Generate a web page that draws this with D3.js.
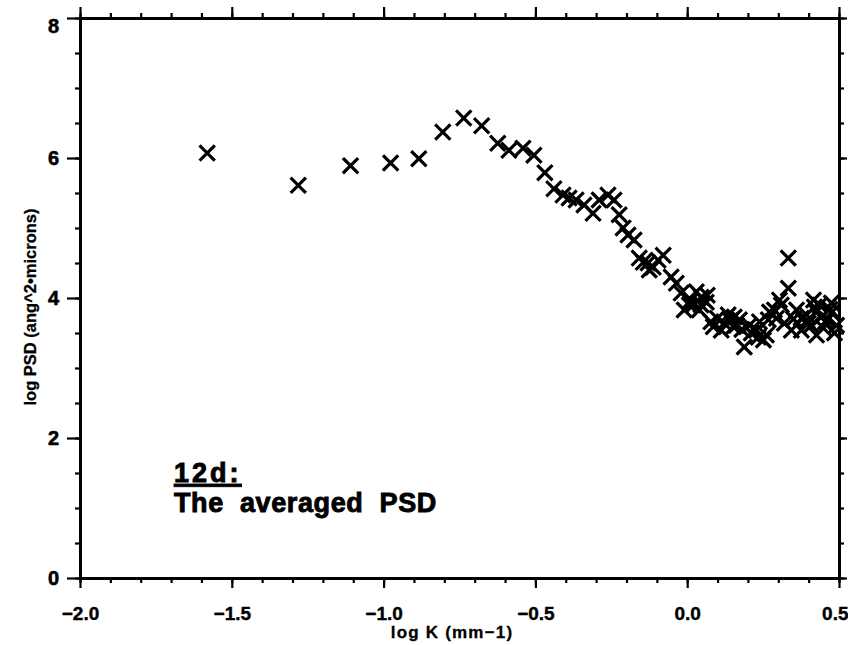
<!DOCTYPE html>
<html><head><meta charset="utf-8">
<script src="https://cdn.jsdelivr.net/npm/d3@7"></script>
<style>
body{margin:0;background:#fff}
svg text{font-family:"Liberation Sans",Arial,Helvetica,sans-serif;font-weight:bold;fill:#000}
</style>
</head><body>
<svg id="chart" width="848" height="645"></svg>
<script>
// ---- data ----
const logK = [
 -1.581,-1.281,-1.109,-0.977,-0.884,-0.805,-0.736,-0.677,-0.624,-0.587,
 -0.541,-0.505,-0.469,-0.439,-0.409,-0.389,-0.366,-0.340,-0.310,-0.290,
 -0.261,-0.241,-0.224,-0.211,-0.195,-0.175,-0.145,-0.129,-0.112,-0.079,
 -0.053,-0.036,-0.020,-0.010,0.013,0.046,0.063,0.086,0.122,0.155,
 0.152,0.188,0.211,0.234,0.267,0.287,0.310,0.333,0.333,0.320,
 0.343,0.399,0.419,0.442,0.475,0.485,
 -0.158,-0.125,-0.096,0.020,0.030,0.046,0.066,0.040,0.007,
 0.099,0.112,0.135,0.162,0.172,0.205,0.228,0.251,0.238,0.261,
 0.271,0.294,0.304,0.360,0.376,0.393,0.409,0.426,0.436,0.449,
 0.462,0.475,0.492,0.416,0.376,
 0.425,0.455,0.395,0.470,0.078,0.142,0.180,0.350
];
const logPSD = [
 6.07,5.61,5.89,5.93,5.99,6.37,6.57,6.46,6.21,6.11,
 6.14,6.04,5.79,5.56,5.47,5.43,5.40,5.33,5.21,5.40,
 5.47,5.40,5.19,5.00,4.90,4.83,4.51,4.50,4.44,4.61,
 4.30,4.21,4.07,3.83,3.97,4.01,3.94,3.59,3.64,3.73,
 3.59,3.30,3.50,3.44,3.69,3.83,3.90,4.57,4.14,3.64,
 3.54,3.64,3.87,3.73,3.79,3.50,
 4.57,4.40,4.54,3.90,4.09,3.90,4.04,3.83,3.90,
 3.71,3.54,3.76,3.61,3.69,3.61,3.54,3.40,3.66,3.47,
 3.80,3.71,3.97,3.83,3.54,3.76,3.61,3.47,3.90,3.57,
 3.69,3.93,3.61,3.97,3.71,
 3.80,3.66,3.68,3.84,3.66,3.68,3.55,3.70
];
const xTicks = [-2.0,-1.5,-1.0,-0.5,0.0,0.5];
const xTickLabels = ["\u22122.0","\u22121.5","\u22121.0","\u22120.5","0.0","0.5"];
const yTicks = [0,2,4,6,8];
const yTickLabels = ["0","2","4","6","8"];
const xTitle = "log K (mm\u22121)";
const yTitle = "log PSD (ang^2\u2022microns)";
const noteLine1 = "12d:";
const noteLine2 = "The  averaged  PSD";

// ---- layout ----
const L = 80, R = 839, T = 18, B = 578;
const svg = d3.select("#chart");
const x = d3.scaleLinear().domain([-2, 0.5]).range([L, R]);
const y = d3.scaleLinear().domain([0, 8]).range([B, T]);
const xMinor = x.ticks(25);
const yMinor = y.ticks(16);

function styleAxis(g){
  g.select(".domain").attr("stroke","#000").attr("stroke-width",3);
  g.selectAll(".tick line").attr("stroke","#000").attr("stroke-width",2.2);
}
function heavy(sel, w){
  sel.attr("fill","#000").attr("stroke","#000").attr("stroke-width",w).attr("paint-order","stroke");
}

// bottom
svg.append("g").attr("transform",`translate(0,${B})`)
  .call(d3.axisBottom(x).tickValues(xMinor).tickSize(5).tickSizeOuter(0).tickFormat(""))
  .call(styleAxis);
const gb = svg.append("g").attr("transform",`translate(0,${B})`)
  .call(d3.axisBottom(x).tickValues(xTicks).tickSize(10).tickSizeOuter(0)
    .tickFormat((d,i)=>xTickLabels[i]).tickPadding(19))
  .call(styleAxis);
gb.selectAll(".tick text").attr("font-size",19).call(heavy,0.4);
gb.selectAll(".tick text").filter(d=>d===0.5).attr("text-anchor","end").attr("dx",9);
// top
svg.append("g").attr("transform",`translate(0,${T})`)
  .call(d3.axisTop(x).tickValues(xMinor).tickSize(5).tickSizeOuter(0).tickFormat(""))
  .call(styleAxis);
svg.append("g").attr("transform",`translate(0,${T})`)
  .call(d3.axisTop(x).tickValues(xTicks).tickSize(11).tickSizeOuter(0).tickFormat(""))
  .call(styleAxis);
// left
svg.append("g").attr("transform",`translate(${L},0)`)
  .call(d3.axisLeft(y).tickValues(yMinor).tickSize(5).tickSizeOuter(0).tickFormat(""))
  .call(styleAxis);
const gl = svg.append("g").attr("transform",`translate(${L},0)`)
  .call(d3.axisLeft(y).tickValues(yTicks).tickSize(13).tickSizeOuter(0)
    .tickFormat((d,i)=>yTickLabels[i]).tickPadding(8))
  .call(styleAxis);
gl.selectAll(".tick text").attr("font-size",20).call(heavy,0.6);
gl.selectAll(".tick text").filter(d=>d===8).attr("dy","0.72em");
// right
svg.append("g").attr("transform",`translate(${R},0)`)
  .call(d3.axisRight(y).tickValues(yMinor).tickSize(5).tickSizeOuter(0).tickFormat(""))
  .call(styleAxis);
svg.append("g").attr("transform",`translate(${R},0)`)
  .call(d3.axisRight(y).tickValues(yTicks).tickSize(8).tickSizeOuter(0).tickFormat(""))
  .call(styleAxis);

// markers
const s = 6.5;
const pts = svg.append("g").attr("stroke","#000").attr("stroke-width",3.2).attr("stroke-linecap","square").attr("fill","none");
logK.forEach((k,i)=>{
  const cx = x(k), cy = y(logPSD[i]);
  pts.append("path").attr("d",`M${cx-s},${cy-s}L${cx+s},${cy+s}M${cx-s},${cy+s}L${cx+s},${cy-s}`);
});

// titles
svg.append("text").attr("x",452).attr("y",638).attr("text-anchor","middle")
  .attr("font-size",17).attr("letter-spacing",1.2).style("white-space","pre").call(heavy,0.3).text(xTitle);
svg.append("text").attr("transform",`translate(36,${(T+B)/2+9}) rotate(-90)`)
  .attr("text-anchor","middle").attr("font-size",16.5).call(heavy,0.3).text(yTitle);

// annotation
svg.append("text").attr("x",174).attr("y",482).attr("font-size",27).attr("letter-spacing",3)
  .attr("text-decoration","underline").style("white-space","pre").call(heavy,0.9).text(noteLine1);
svg.append("text").attr("x",174).attr("y",512).attr("font-size",27).attr("letter-spacing",0.6)
  .style("white-space","pre").call(heavy,0.9).text(noteLine2);
</script>
</body></html>
